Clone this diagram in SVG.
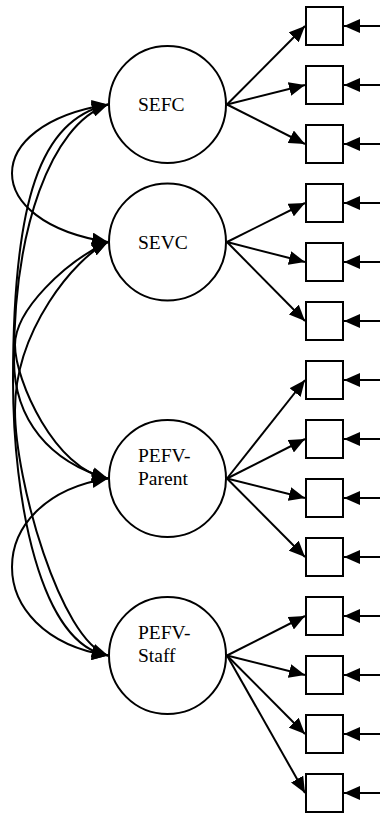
<svg xmlns="http://www.w3.org/2000/svg" width="380" height="814" viewBox="0 0 380 814">
<style>
.lat{fill:#fff;stroke:#000;stroke-width:2}
.obs{fill:#fff;stroke:#000;stroke-width:2}
.lbl{font-family:"Liberation Serif","Times New Roman",serif;font-size:19.5px;fill:#000}
.ln{fill:none;stroke:#000;stroke-width:2;marker-end:url(#ah)}
.cv{fill:none;stroke:#000;stroke-width:2;marker-start:url(#ah);marker-end:url(#ah)}
</style>
<defs>
<marker id="ah" markerUnits="userSpaceOnUse" markerWidth="16" markerHeight="14" viewBox="0 0 16 14" refX="16" refY="7" orient="auto-start-reverse">
<path d="M0,0 L16,7 L0,14 z" fill="#000"/>
</marker>
</defs>
<g id="connectors">
<path class="cv" d="M108,104.5 C-20,124.5 -20,222 108,242"/>
<path class="cv" d="M108,104.5 C50,125 14,230 14,360 C14,420 50,462 108,478.5"/>
<path class="cv" d="M108,104.5 C40,120 13,200 13,380 C13,500 40,645 108,655.5"/>
<path class="cv" d="M108,242 C65,262 15,310 15,345 C15,380 55,470 108,478.5"/>
<path class="cv" d="M108,242 C75,258 15,330 15,410 C15,480 60,640 108,655.5"/>
<path class="cv" d="M108,478.5 C-20,498.5 -20,635.5 108,655.5"/>
<line class="ln" x1="227" y1="104.5" x2="305" y2="26"/>
<line class="ln" x1="227" y1="104.5" x2="305" y2="85"/>
<line class="ln" x1="227" y1="104.5" x2="305" y2="144"/>
<line class="ln" x1="227" y1="242" x2="305" y2="203"/>
<line class="ln" x1="227" y1="242" x2="305" y2="262"/>
<line class="ln" x1="227" y1="242" x2="305" y2="321"/>
<line class="ln" x1="227" y1="478.5" x2="305" y2="380"/>
<line class="ln" x1="227" y1="478.5" x2="305" y2="439"/>
<line class="ln" x1="227" y1="478.5" x2="305" y2="498"/>
<line class="ln" x1="227" y1="478.5" x2="305" y2="557"/>
<line class="ln" x1="227" y1="655.5" x2="305" y2="616"/>
<line class="ln" x1="227" y1="655.5" x2="305" y2="675"/>
<line class="ln" x1="227" y1="655.5" x2="305" y2="734"/>
<line class="ln" x1="227" y1="655.5" x2="305" y2="793"/>
<line class="ln" x1="380" y1="26" x2="344" y2="26"/>
<line class="ln" x1="380" y1="85" x2="344" y2="85"/>
<line class="ln" x1="380" y1="144" x2="344" y2="144"/>
<line class="ln" x1="380" y1="203" x2="344" y2="203"/>
<line class="ln" x1="380" y1="262" x2="344" y2="262"/>
<line class="ln" x1="380" y1="321" x2="344" y2="321"/>
<line class="ln" x1="380" y1="380" x2="344" y2="380"/>
<line class="ln" x1="380" y1="439" x2="344" y2="439"/>
<line class="ln" x1="380" y1="498" x2="344" y2="498"/>
<line class="ln" x1="380" y1="557" x2="344" y2="557"/>
<line class="ln" x1="380" y1="616" x2="344" y2="616"/>
<line class="ln" x1="380" y1="675" x2="344" y2="675"/>
<line class="ln" x1="380" y1="734" x2="344" y2="734"/>
<line class="ln" x1="380" y1="793" x2="344" y2="793"/>
</g>
<g id="SEFC"><circle class="lat" cx="167.5" cy="104.5" r="58.5"/><text class="lbl" x="138" y="111">SEFC</text></g>
<g id="SEVC"><circle class="lat" cx="167.5" cy="242" r="58.5"/><text class="lbl" x="138" y="249">SEVC</text></g>
<g id="PEFV-Parent"><circle class="lat" cx="167.5" cy="478.5" r="58.5"/><text class="lbl" x="138" y="461.5">PEFV-</text><text class="lbl" x="138" y="484.5">Parent</text></g>
<g id="PEFV-Staff"><circle class="lat" cx="167.5" cy="655.5" r="58.5"/><text class="lbl" x="138" y="638.5">PEFV-</text><text class="lbl" x="138" y="661.5">Staff</text></g>
<g id="i1"><rect class="obs" x="306" y="7" width="37" height="38"/></g>
<g id="i2"><rect class="obs" x="306" y="66" width="37" height="38"/></g>
<g id="i3"><rect class="obs" x="306" y="125" width="37" height="38"/></g>
<g id="i4"><rect class="obs" x="306" y="184" width="37" height="38"/></g>
<g id="i5"><rect class="obs" x="306" y="243" width="37" height="38"/></g>
<g id="i6"><rect class="obs" x="306" y="302" width="37" height="38"/></g>
<g id="i7"><rect class="obs" x="306" y="361" width="37" height="38"/></g>
<g id="i8"><rect class="obs" x="306" y="420" width="37" height="38"/></g>
<g id="i9"><rect class="obs" x="306" y="479" width="37" height="38"/></g>
<g id="i10"><rect class="obs" x="306" y="538" width="37" height="38"/></g>
<g id="i11"><rect class="obs" x="306" y="597" width="37" height="38"/></g>
<g id="i12"><rect class="obs" x="306" y="656" width="37" height="38"/></g>
<g id="i13"><rect class="obs" x="306" y="715" width="37" height="38"/></g>
<g id="i14"><rect class="obs" x="306" y="774" width="37" height="38"/></g>
</svg>
